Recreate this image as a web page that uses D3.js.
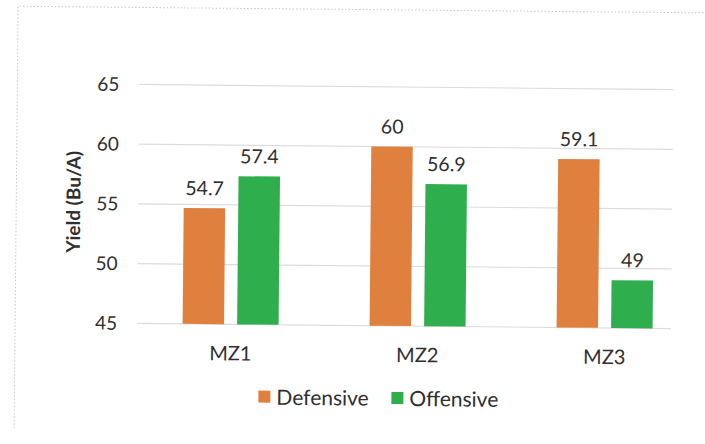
<!DOCTYPE html>
<html>
<head>
<meta charset="utf-8">
<script src="https://cdn.jsdelivr.net/npm/d3@7/dist/d3.min.js"></script>
<style>
  html, body { margin: 0; padding: 0; background: #fff; }
  svg { display: block; }
  text { font-family: Lato, "Open Sans", "Liberation Sans", sans-serif; fill: #2f2f2f; }
</style>
</head>
<body>
<svg id="chart" width="705" height="444"></svg>
<script>
// Yield by management zone and seeding strategy
const zones = ["MZ1", "MZ2", "MZ3"];
const series = ["Defensive", "Offensive"];
const defensive = [54.7, 60, 59.1];
const offensive = [57.4, 56.9, 49];
const yTicks = [45, 50, 55, 60, 65];
const colors = ["#E0803F", "#2EAE4C"];

const svg = d3.select("#chart");
const root = svg.append("g").attr("transform", "rotate(0.55 405 230)");

// Chart frame (light dotted outline)
root.append("path")
  .attr("d", "M16,432 L16,10 L720,10")
  .attr("fill", "none")
  .attr("stroke", "#c8c8c8")
  .attr("stroke-width", 1)
  .attr("stroke-dasharray", "1.5,2");

const left = 138, gridRight = 672;
const x = d3.scaleBand().domain(zones).range([left, left + 3 * 187]).paddingInner(0).paddingOuter(0);
const xs = d3.scaleBand().domain(series).range([0, 96]).paddingInner(0.24);
const y = d3.scaleLinear().domain([45, 65]).range([326, 87]);

// Gridlines
root.append("g").selectAll("line").data(yTicks).join("line")
  .attr("x1", left).attr("x2", gridRight)
  .attr("y1", d => y(d)).attr("y2", d => y(d))
  .attr("stroke", "#dcdcdc").attr("stroke-width", 1.2);

// Y axis tick labels
const yAxis = d3.axisLeft(y).tickValues(yTicks).tickSize(0).tickPadding(0);
const yg = root.append("g").attr("transform", `translate(${left - 20},0)`).call(yAxis);
yg.select(".domain").remove();
yg.selectAll("text").attr("font-size", 19).style("font-family", "Lato, 'Open Sans', sans-serif").attr("fill", "#2f2f2f");

// Y axis title
root.append("text")
  .attr("transform", `translate(80,205) rotate(-90)`)
  .attr("text-anchor", "middle")
  .attr("font-size", 19)
  .attr("font-weight", "bold")
  .text("Yield (Bu/A)");

// Bars
const rows = zones.map((z, i) => ({ zone: z, vals: [defensive[i], offensive[i]] }));
const groups = root.append("g").selectAll("g").data(rows).join("g")
  .attr("transform", d => `translate(${x(d.zone) + (x.bandwidth() - 96) / 2},0)`);

groups.selectAll("rect").data(d => d.vals.map((v, j) => ({ s: series[j], v, j }))).join("rect")
  .attr("x", d => xs(d.s))
  .attr("width", xs.bandwidth())
  .attr("y", d => y(d.v))
  .attr("height", d => y(45) - y(d.v))
  .attr("fill", d => colors[d.j]);

// Value labels
groups.selectAll("text.val").data(d => d.vals.map((v, j) => ({ s: series[j], v, j }))).join("text")
  .attr("class", "val")
  .attr("x", d => xs(d.s) + xs.bandwidth() / 2)
  .attr("y", d => y(d.v) - 13)
  .attr("text-anchor", "middle")
  .attr("font-size", 19.5)
  .text(d => d.v);

// Category labels
const xAxis = d3.axisBottom(x).tickSize(0).tickPadding(0);
const xg = root.append("g").attr("transform", `translate(0,${y(45) + 36})`).call(xAxis);
xg.select(".domain").remove();
xg.selectAll("text").attr("font-size", 20).attr("dy", 0)
  .style("font-family", "Lato, 'Open Sans', sans-serif").attr("fill", "#2f2f2f");

// Legend
const legend = root.append("g").attr("transform", "translate(260,398)");
const items = [{ s: "Defensive", x: 0 }, { s: "Offensive", x: 133 }];
items.forEach((it, j) => {
  legend.append("rect").attr("x", it.x).attr("y", -6).attr("width", 12).attr("height", 12).attr("fill", colors[j]);
  legend.append("text").attr("x", it.x + 18).attr("y", 8).attr("font-size", 21).text(it.s);
});
</script>
</body>
</html>
